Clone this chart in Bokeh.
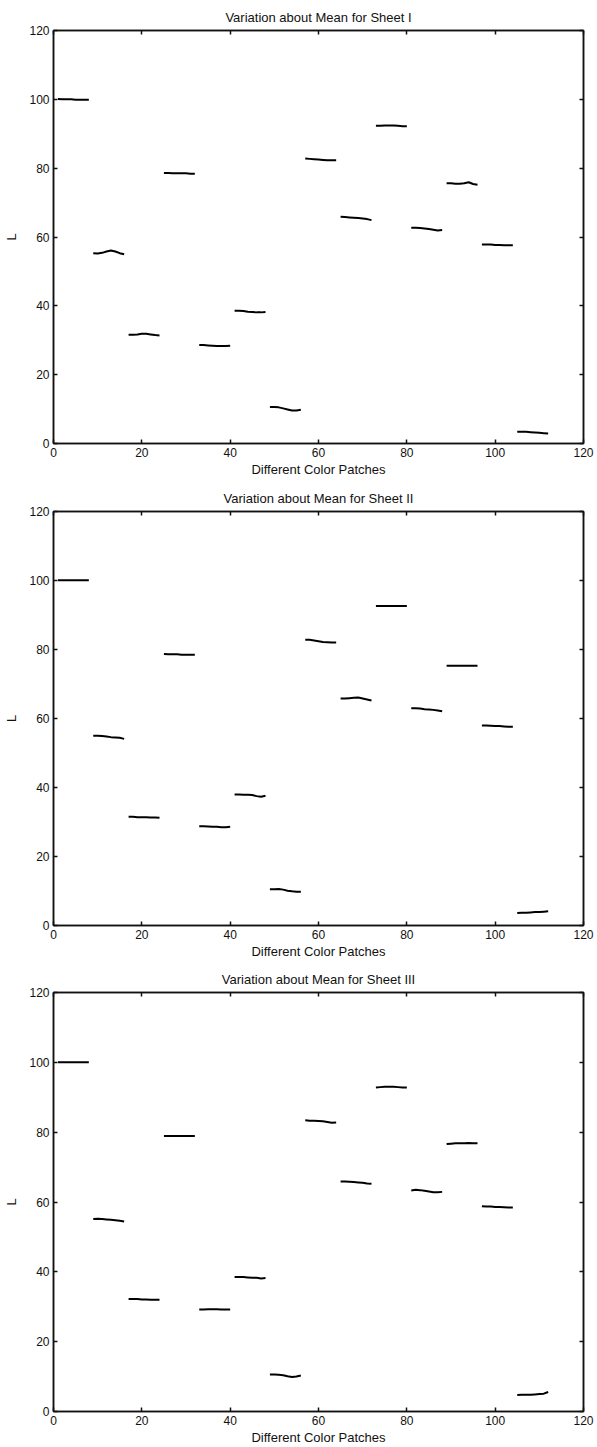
from bokeh.plotting import figure
from bokeh.layouts import column
from bokeh.models import LinearAxis, FixedTicker, Range1d
from bokeh.embed import file_html
from bokeh.resources import INLINE

# L values of the 112 colour patches, grouped 8 per colour (14 colours) for each sheet
sheet_1 = [
    [100.1, 100.0, 100.0, 100.0, 99.9, 99.9, 99.9, 99.9],
    [55.3, 55.2, 55.4, 55.8, 56.1, 55.8, 55.3, 55.0],
    [31.6, 31.6, 31.7, 31.9, 31.9, 31.7, 31.5, 31.4],
    [78.6, 78.6, 78.5, 78.5, 78.5, 78.5, 78.4, 78.4],
    [28.6, 28.6, 28.5, 28.4, 28.3, 28.3, 28.3, 28.4],
    [38.6, 38.6, 38.5, 38.3, 38.2, 38.1, 38.1, 38.2],
    [10.6, 10.6, 10.5, 10.2, 9.9, 9.6, 9.6, 9.8],
    [82.8, 82.7, 82.6, 82.5, 82.4, 82.3, 82.3, 82.3],
    [65.9, 65.8, 65.7, 65.6, 65.5, 65.4, 65.2, 64.9],
    [92.3, 92.3, 92.4, 92.4, 92.4, 92.3, 92.2, 92.2],
    [62.7, 62.7, 62.6, 62.5, 62.3, 62.1, 61.9, 62.0],
    [75.6, 75.6, 75.5, 75.5, 75.6, 75.9, 75.4, 75.2],
    [57.8, 57.8, 57.8, 57.7, 57.7, 57.6, 57.6, 57.6],
    [3.4, 3.4, 3.4, 3.3, 3.2, 3.1, 3.0, 2.9],
]

sheet_2 = [
    [100.1, 100.1, 100.1, 100.1, 100.1, 100.1, 100.1, 100.1],
    [55.0, 55.0, 54.9, 54.8, 54.6, 54.5, 54.4, 54.1],
    [31.5, 31.5, 31.4, 31.4, 31.4, 31.3, 31.3, 31.2],
    [78.7, 78.6, 78.6, 78.6, 78.5, 78.5, 78.5, 78.5],
    [28.8, 28.8, 28.7, 28.6, 28.6, 28.5, 28.5, 28.6],
    [38.0, 38.0, 37.9, 37.9, 37.8, 37.5, 37.3, 37.6],
    [10.5, 10.5, 10.6, 10.4, 10.1, 9.9, 9.8, 9.8],
    [82.8, 82.8, 82.6, 82.4, 82.2, 82.1, 82.0, 82.0],
    [65.8, 65.8, 65.9, 66.0, 66.1, 65.8, 65.5, 65.2],
    [92.6, 92.6, 92.6, 92.6, 92.6, 92.6, 92.6, 92.6],
    [63.0, 63.0, 62.9, 62.7, 62.6, 62.5, 62.3, 62.1],
    [75.3, 75.3, 75.3, 75.3, 75.3, 75.3, 75.3, 75.3],
    [58.0, 58.0, 57.9, 57.8, 57.8, 57.7, 57.6, 57.6],
    [3.6, 3.7, 3.7, 3.8, 3.9, 3.9, 4.0, 4.1],
]

sheet_3 = [
    [100.0, 100.0, 100.0, 100.0, 100.0, 100.0, 100.0, 100.0],
    [55.1, 55.2, 55.1, 55.0, 54.9, 54.8, 54.6, 54.4],
    [32.2, 32.2, 32.2, 32.1, 32.1, 32.0, 32.0, 32.0],
    [78.9, 78.9, 78.9, 78.9, 78.9, 78.9, 78.9, 78.9],
    [29.2, 29.2, 29.3, 29.3, 29.3, 29.2, 29.2, 29.2],
    [38.5, 38.5, 38.5, 38.4, 38.3, 38.3, 38.1, 38.2],
    [10.6, 10.6, 10.5, 10.4, 10.1, 9.9, 10.0, 10.3],
    [83.4, 83.3, 83.3, 83.2, 83.1, 82.9, 82.7, 82.8],
    [65.9, 65.9, 65.8, 65.7, 65.6, 65.5, 65.3, 65.2],
    [92.8, 92.9, 93.0, 93.0, 93.0, 92.9, 92.8, 92.8],
    [63.3, 63.5, 63.4, 63.2, 63.0, 62.8, 62.8, 62.9],
    [76.6, 76.7, 76.8, 76.8, 76.8, 76.9, 76.8, 76.8],
    [58.8, 58.7, 58.7, 58.6, 58.6, 58.5, 58.4, 58.4],
    [4.7, 4.8, 4.8, 4.8, 4.9, 5.0, 5.1, 5.6],
]

titles = [
    "Variation about Mean for Sheet I",
    "Variation about Mean for Sheet II",
    "Variation about Mean for Sheet III",
]
x_ticks = [0, 20, 40, 60, 80, 100, 120]
y_ticks = [0, 20, 40, 60, 80, 100, 120]
x_label = "Different Color Patches"
y_label = "L"

FONT = "Liberation Sans"
INK = "#111111"


def style_axis(ax, ticks, show_labels=True):
    ax.ticker = FixedTicker(ticks=ticks)
    ax.axis_line_color = INK
    ax.axis_line_width = 1.5
    ax.major_tick_line_color = INK
    ax.major_tick_line_width = 1.5
    ax.major_tick_in = 4
    ax.major_tick_out = 0
    ax.minor_tick_line_color = None
    if show_labels:
        ax.major_label_text_font = FONT
        ax.major_label_text_font_size = "12px"
        ax.major_label_text_font_style = "normal"
        ax.major_label_text_color = INK
        ax.major_label_standoff = 4
    else:
        # tick marks only on the mirrored box edges
        ax.major_label_text_color = None
        ax.major_label_text_font_size = "1px"
        ax.major_label_standoff = 0


def make_panel(title, segments, height, border_bottom):
    p = figure(
        width=597, height=height,
        x_range=Range1d(0, 120), y_range=Range1d(0, 120),
        output_backend="svg", toolbar_location=None,
        min_border_left=53, min_border_right=14,
        min_border_top=30, min_border_bottom=border_bottom,
        background_fill_color="white", border_fill_color="white",
    )
    p.outline_line_color = INK
    p.outline_line_width = 1.5
    p.grid.visible = False

    p.title.text = title
    p.title.align = "center"
    p.title.text_font = FONT
    p.title.text_font_size = "13px"
    p.title.text_font_style = "normal"
    p.title.text_color = INK
    p.title.standoff = 12

    style_axis(p.xaxis[0], x_ticks)
    style_axis(p.yaxis[0], y_ticks)
    p.xaxis.axis_label = x_label
    p.yaxis.axis_label = y_label
    for ax in (p.xaxis[0], p.yaxis[0]):
        ax.axis_label_text_font = FONT
        ax.axis_label_text_font_size = "13px"
        ax.axis_label_text_font_style = "normal"
        ax.axis_label_text_color = INK
    p.xaxis[0].axis_label_standoff = 2
    p.yaxis[0].axis_label_standoff = 7

    top = LinearAxis()
    style_axis(top, x_ticks, show_labels=False)
    p.add_layout(top, "above")
    right = LinearAxis()
    style_axis(right, y_ticks, show_labels=False)
    p.add_layout(right, "right")

    # each colour occupies 8 consecutive patch numbers
    xs = [[8 * i + k + 1 for k in range(len(seg))] for i, seg in enumerate(segments)]
    p.multi_line(xs=xs, ys=segments, line_color="black", line_width=2)
    return p


p1 = make_panel(titles[0], sheet_1, 481, 38)
p2 = make_panel(titles[1], sheet_2, 481, 37)
p3 = make_panel(titles[2], sheet_3, 485, 36)

layout = column(p1, p2, p3, spacing=0)
open("out.html", "w").write(file_html(layout, INLINE))
